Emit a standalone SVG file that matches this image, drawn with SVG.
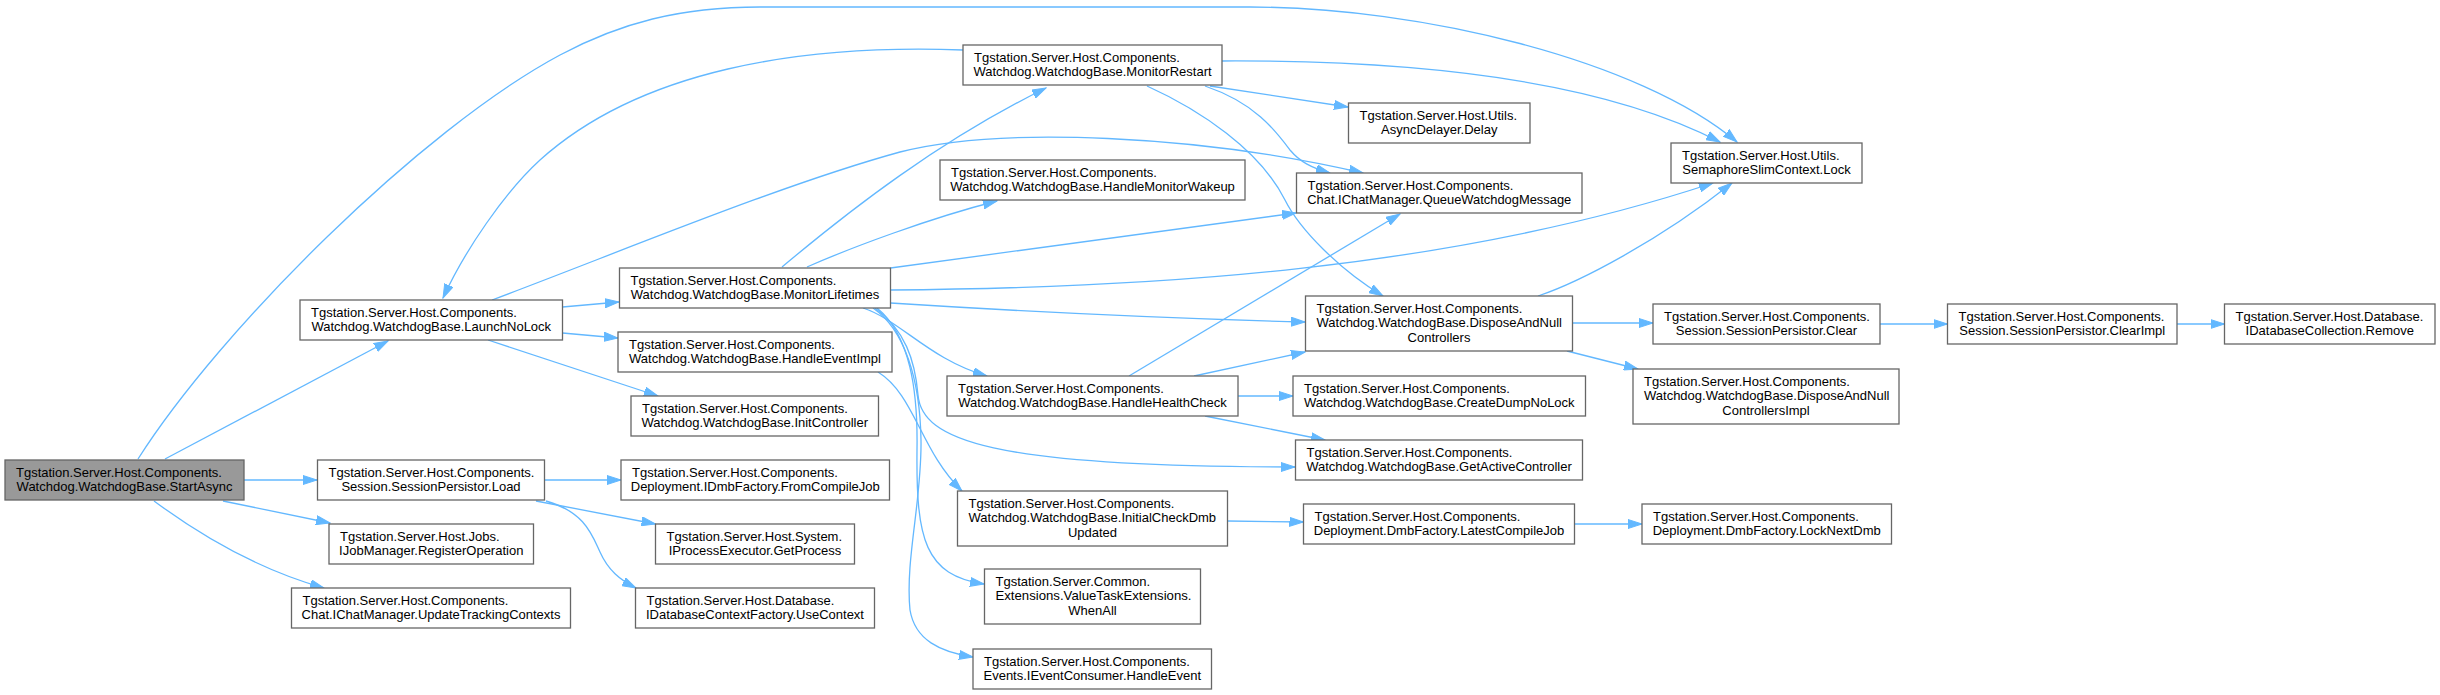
<svg xmlns="http://www.w3.org/2000/svg" width="2440" height="695" viewBox="0 0 2440 695">
<style>
.n rect{fill:#fff;stroke:#666;stroke-width:1.3}
.n.root rect{fill:#999}
.n text{font-family:"Liberation Sans",Arial,Helvetica,sans-serif;font-size:13px;fill:#000}
.n text.c{text-anchor:middle}
#edges path{fill:none;stroke:#63b8ff;stroke-width:1.3;marker-end:url(#ah)}
</style>
<defs>
<marker id="ah" markerWidth="15" markerHeight="10" refX="14" refY="5" orient="auto" markerUnits="userSpaceOnUse">
<path d="M0,0.5 L14,5 L0,9.5 z" fill="#63b8ff" stroke="#63b8ff" stroke-width="1"/>
</marker>
</defs>
<rect width="2440" height="695" fill="#fff"/>
<g id="edges">
<path id="e-start-lock" d="M138,459 C220,330 420,130 560,55 C620,23 680,7 760,7 L1250,7 C1420,7 1640,60 1737,142"/>
<path id="e-start-launch" d="M165,459 L388,341"/>
<path id="e-start-load" d="M244,480 L317,480"/>
<path id="e-start-regop" d="M223,501 L330,523"/>
<path id="e-start-utc" d="M154,501 C200,535 260,570 324,588"/>
<path id="e-launch-ml" d="M562.5,307 L619,302"/>
<path id="e-launch-hei" d="M562.5,333 L618,338"/>
<path id="e-launch-initc" d="M488,340 L658,396"/>
<path id="e-launch-queue" d="M492,300 C620,252 780,185 900,152 C1000,126 1200,135 1363,173"/>
<path id="e-mr-launch" d="M963,50 C800,44 640,70 540,160 C505,192 465,250 443,298"/>
<path id="e-ml-mr" d="M782,267 C850,210 940,140 1046,88"/>
<path id="e-ml-hmw" d="M807,267 C850,248 930,218 997,201"/>
<path id="e-ml-queue" d="M890.5,268 L1296,213"/>
<path id="e-ml-lock" d="M890.5,290 C1150,288 1450,270 1713,183"/>
<path id="e-ml-dnc" d="M890.5,303 C1000,310 1150,318 1305,322"/>
<path id="e-ml-hhc" d="M863,308 C900,320 930,360 987,376"/>
<path id="e-ml-gac" d="M875,308 C905,330 915,360 918,395 C922,440 990,467 1295,467"/>
<path id="e-hei-icd" d="M878,372 C915,395 920,450 962,491"/>
<path id="e-ml-wa" d="M877,308 C910,335 918,390 917,450 C916,540 925,575 984,584"/>
<path id="e-ml-he" d="M873,308 C905,330 920,380 921,440 C922,500 905,560 910,610 C915,640 940,652 973,657"/>
<path id="e-hhc-queue" d="M1129,376 L1400,214"/>
<path id="e-hhc-dnc" d="M1194,376 L1305,352"/>
<path id="e-hhc-cdnl" d="M1238,396 L1293,396"/>
<path id="e-hhc-gac" d="M1205,416 L1325,440"/>
<path id="e-icd-lcj" d="M1227.5,521 L1303.5,522"/>
<path id="e-lcj-lnd" d="M1574.5,524 L1642,524"/>
<path id="e-mr-lock" d="M1222,61 C1420,60 1600,80 1720,142"/>
<path id="e-mr-delay" d="M1210,86 L1348,107"/>
<path id="e-mr-queue" d="M1205,86 C1255,103 1275,130 1290,150 C1300,162 1312,168 1330,173"/>
<path id="e-mr-dnc" d="M1147,86 C1200,110 1260,150 1285,200 C1300,230 1340,270 1383,296"/>
<path id="e-dnc-lock" d="M1538,296 C1580,282 1660,240 1732,183"/>
<path id="e-dnc-clear" d="M1572.5,323 L1653,323"/>
<path id="e-dnc-dnci" d="M1567,351 L1638,369"/>
<path id="e-clear-ci" d="M1880,324 L1947.5,324"/>
<path id="e-ci-rm" d="M2177,324 L2224.5,324"/>
<path id="e-load-fcj" d="M544.5,480 L621,480"/>
<path id="e-load-gp" d="M536,501 L655.5,524"/>
<path id="e-load-uc" d="M546,501 C585,512 592,535 600,552 C608,570 620,580 636,588"/>
</g>
<g id="n-startasync" class="n root"><rect x="5" y="460" width="239" height="40"/><text x="16" y="476.5">Tgstation.Server.Host.Components.</text><text class="c" x="124.5" y="491">Watchdog.WatchdogBase.StartAsync</text></g>
<g id="n-launchnolock" class="n"><rect x="300" y="300" width="262.5" height="40"/><text x="311" y="316.5">Tgstation.Server.Host.Components.</text><text class="c" x="431.25" y="331">Watchdog.WatchdogBase.LaunchNoLock</text></g>
<g id="n-load" class="n"><rect x="317.5" y="460" width="227" height="40"/><text x="328.5" y="476.5">Tgstation.Server.Host.Components.</text><text class="c" x="431" y="491">Session.SessionPersistor.Load</text></g>
<g id="n-registeroperation" class="n"><rect x="329" y="524" width="204.5" height="40"/><text x="340" y="540.5">Tgstation.Server.Host.Jobs.</text><text class="c" x="431.25" y="555">IJobManager.RegisterOperation</text></g>
<g id="n-updatetrackingcontexts" class="n"><rect x="291.5" y="588" width="279" height="40"/><text x="302.5" y="604.5">Tgstation.Server.Host.Components.</text><text class="c" x="431" y="619">Chat.IChatManager.UpdateTrackingContexts</text></g>
<g id="n-monitorlifetimes" class="n"><rect x="619.5" y="268" width="271" height="40"/><text x="630.5" y="284.5">Tgstation.Server.Host.Components.</text><text class="c" x="755" y="299">Watchdog.WatchdogBase.MonitorLifetimes</text></g>
<g id="n-handleeventimpl" class="n"><rect x="618" y="332" width="274" height="40"/><text x="629" y="348.5">Tgstation.Server.Host.Components.</text><text class="c" x="755" y="363">Watchdog.WatchdogBase.HandleEventImpl</text></g>
<g id="n-initcontroller" class="n"><rect x="631" y="396" width="247.5" height="40"/><text x="642" y="412.5">Tgstation.Server.Host.Components.</text><text class="c" x="754.75" y="427">Watchdog.WatchdogBase.InitController</text></g>
<g id="n-fromcompilejob" class="n"><rect x="621" y="460" width="268.5" height="40"/><text x="632" y="476.5">Tgstation.Server.Host.Components.</text><text class="c" x="755.25" y="491">Deployment.IDmbFactory.FromCompileJob</text></g>
<g id="n-getprocess" class="n"><rect x="655.5" y="524" width="199" height="40"/><text x="666.5" y="540.5">Tgstation.Server.Host.System.</text><text class="c" x="755" y="555">IProcessExecutor.GetProcess</text></g>
<g id="n-usecontext" class="n"><rect x="635.5" y="588" width="239" height="40"/><text x="646.5" y="604.5">Tgstation.Server.Host.Database.</text><text class="c" x="755" y="619">IDatabaseContextFactory.UseContext</text></g>
<g id="n-monitorrestart" class="n"><rect x="963" y="45" width="259" height="40"/><text x="974" y="61.5">Tgstation.Server.Host.Components.</text><text class="c" x="1092.5" y="76">Watchdog.WatchdogBase.MonitorRestart</text></g>
<g id="n-handlemonitorwakeup" class="n"><rect x="940" y="160" width="305" height="40"/><text x="951" y="176.5">Tgstation.Server.Host.Components.</text><text class="c" x="1092.5" y="191">Watchdog.WatchdogBase.HandleMonitorWakeup</text></g>
<g id="n-handlehealthcheck" class="n"><rect x="947" y="376" width="291" height="40"/><text x="958" y="392.5">Tgstation.Server.Host.Components.</text><text class="c" x="1092.5" y="407">Watchdog.WatchdogBase.HandleHealthCheck</text></g>
<g id="n-initialcheckdmbupdated" class="n"><rect x="957.5" y="491" width="270" height="55"/><text x="968.5" y="507.5">Tgstation.Server.Host.Components.</text><text x="968.5" y="522">Watchdog.WatchdogBase.InitialCheckDmb</text><text class="c" x="1092.5" y="536.5">Updated</text></g>
<g id="n-whenall" class="n"><rect x="984.5" y="569" width="216" height="55"/><text x="995.5" y="585.5">Tgstation.Server.Common.</text><text x="995.5" y="600" textLength="196" lengthAdjust="spacingAndGlyphs">Extensions.ValueTaskExtensions.</text><text class="c" x="1092.5" y="614.5">WhenAll</text></g>
<g id="n-handleevent" class="n"><rect x="973" y="649" width="238.5" height="40"/><text x="984" y="665.5">Tgstation.Server.Host.Components.</text><text class="c" x="1092.25" y="680">Events.IEventConsumer.HandleEvent</text></g>
<g id="n-delay" class="n"><rect x="1348.5" y="103" width="181.5" height="40"/><text x="1359.5" y="119.5">Tgstation.Server.Host.Utils.</text><text class="c" x="1439.25" y="134">AsyncDelayer.Delay</text></g>
<g id="n-queuewatchdogmessage" class="n"><rect x="1296.5" y="173" width="285.5" height="40"/><text x="1307.5" y="189.5">Tgstation.Server.Host.Components.</text><text class="c" x="1439.25" y="204" textLength="264" lengthAdjust="spacingAndGlyphs">Chat.IChatManager.QueueWatchdogMessage</text></g>
<g id="n-disposeandnullcontrollers" class="n"><rect x="1305.5" y="296" width="267" height="55"/><text x="1316.5" y="312.5">Tgstation.Server.Host.Components.</text><text x="1316.5" y="327">Watchdog.WatchdogBase.DisposeAndNull</text><text class="c" x="1439" y="341.5">Controllers</text></g>
<g id="n-createdumpnolock" class="n"><rect x="1293" y="376" width="292.5" height="40"/><text x="1304" y="392.5">Tgstation.Server.Host.Components.</text><text class="c" x="1439.25" y="407">Watchdog.WatchdogBase.CreateDumpNoLock</text></g>
<g id="n-getactivecontroller" class="n"><rect x="1295.5" y="440" width="287" height="40"/><text x="1306.5" y="456.5">Tgstation.Server.Host.Components.</text><text class="c" x="1439" y="471">Watchdog.WatchdogBase.GetActiveController</text></g>
<g id="n-latestcompilejob" class="n"><rect x="1303.5" y="504" width="271" height="40"/><text x="1314.5" y="520.5">Tgstation.Server.Host.Components.</text><text class="c" x="1439" y="535">Deployment.DmbFactory.LatestCompileJob</text></g>
<g id="n-lock" class="n"><rect x="1671" y="143" width="191" height="40"/><text x="1682" y="159.5">Tgstation.Server.Host.Utils.</text><text class="c" x="1766.5" y="174">SemaphoreSlimContext.Lock</text></g>
<g id="n-clear" class="n"><rect x="1653" y="304" width="227" height="40"/><text x="1664" y="320.5">Tgstation.Server.Host.Components.</text><text class="c" x="1766.5" y="335">Session.SessionPersistor.Clear</text></g>
<g id="n-disposeandnullcontrollersimpl" class="n"><rect x="1633" y="369" width="266" height="55"/><text x="1644" y="385.5">Tgstation.Server.Host.Components.</text><text x="1644" y="400">Watchdog.WatchdogBase.DisposeAndNull</text><text class="c" x="1766" y="414.5">ControllersImpl</text></g>
<g id="n-locknextdmb" class="n"><rect x="1642" y="504" width="249.5" height="40"/><text x="1653" y="520.5">Tgstation.Server.Host.Components.</text><text class="c" x="1766.75" y="535">Deployment.DmbFactory.LockNextDmb</text></g>
<g id="n-clearimpl" class="n"><rect x="1947.5" y="304" width="229.5" height="40"/><text x="1958.5" y="320.5">Tgstation.Server.Host.Components.</text><text class="c" x="2062.25" y="335">Session.SessionPersistor.ClearImpl</text></g>
<g id="n-remove" class="n"><rect x="2224.5" y="304" width="210.5" height="40"/><text x="2235.5" y="320.5">Tgstation.Server.Host.Database.</text><text class="c" x="2329.75" y="335">IDatabaseCollection.Remove</text></g>
</svg>
